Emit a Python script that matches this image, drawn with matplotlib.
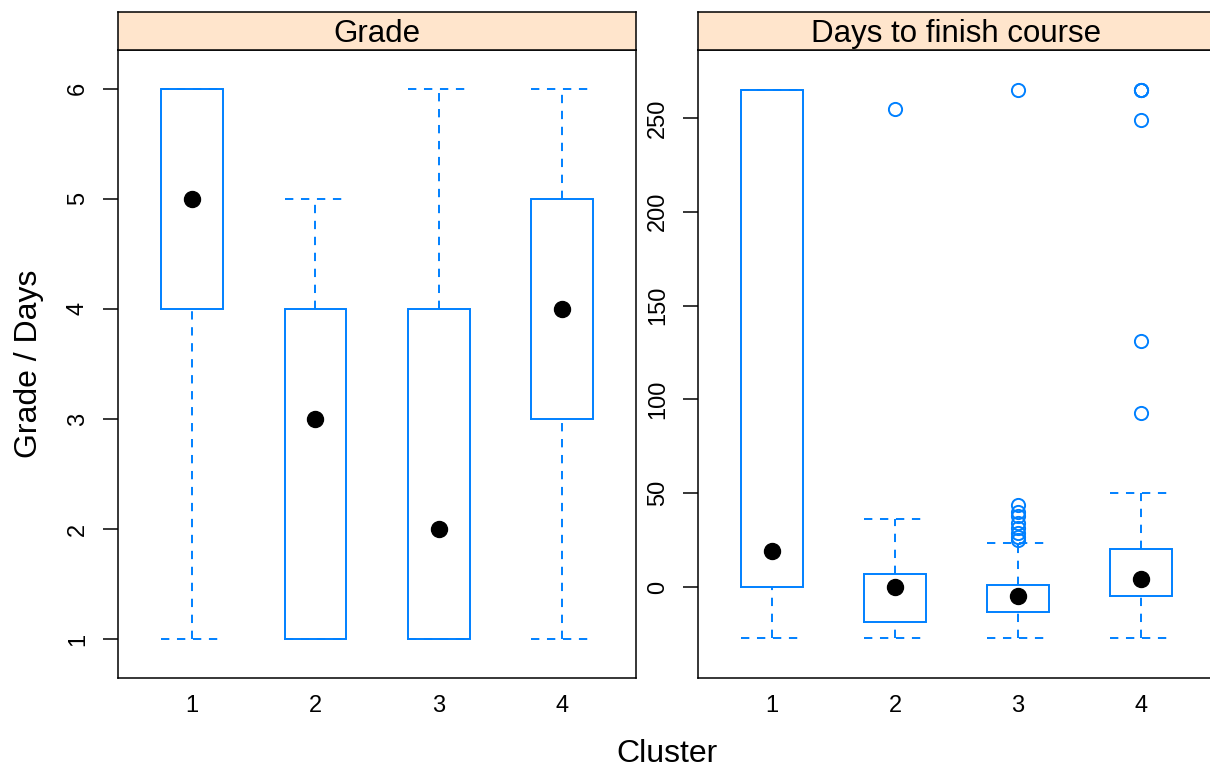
import matplotlib
matplotlib.use('Agg')
import matplotlib.pyplot as plt

plt.rcParams['font.family'] = ['Liberation Sans', 'DejaVu Sans']
plt.rcParams['lines.scale_dashes'] = False

BLUE = '#0080ff'
STRIP = '#ffe5cc'

clusters = [1, 2, 3, 4]

# Grade: box stats per cluster (lower whisker, q1, median, q3, upper whisker)
grade_lo = [1, 1, 1, 1]
grade_q1 = [4, 1, 1, 3]
grade_med = [5, 3, 2, 4]
grade_q3 = [6, 4, 4, 5]
grade_hi = [6, 5, 6, 6]
grade_out = [[], [], [], []]

# Days to finish course
days_lo = [-27, -27, -27, -27]
days_q1 = [0, -18.7, -13.5, -5]
days_med = [19, 0, -5, 4]
days_q3 = [265, 7, 1, 20]
days_hi = [265, 36, 23.5, 50]
days_out = [
    [],
    [254.5],
    [265, 43.5, 40, 38, 34, 31.5, 29, 26.5, 25],
    [265, 265, 265, 249, 131, 93],
]

W, H = 1210, 774
fig = plt.figure(figsize=(W / 100, H / 100), dpi=100)


def px_axes(l, r, b, t):
    return fig.add_axes([l / W, 1 - b / H, (r - l) / W, (b - t) / H])


def draw_panel(ax, lo, q1, med, q3, hi, out):
    bw = 0.5
    dash = (0, (6.0, 5.5))
    for i, x in enumerate(clusters):
        # box
        ax.plot([x - bw / 2, x + bw / 2, x + bw / 2, x - bw / 2, x - bw / 2],
                [q1[i], q1[i], q3[i], q3[i], q1[i]], color=BLUE, lw=1.4,
                solid_joinstyle='miter', zorder=2)
        # whiskers and caps
        ax.plot([x, x], [q3[i], hi[i]], color=BLUE, lw=1.4, ls=dash, zorder=2)
        ax.plot([x, x], [lo[i], q1[i]], color=BLUE, lw=1.4, ls=dash, zorder=2)
        ax.plot([x - bw / 2, x + bw / 2], [hi[i], hi[i]], color=BLUE, lw=1.4, ls=dash, zorder=2)
        ax.plot([x - bw / 2, x + bw / 2], [lo[i], lo[i]], color=BLUE, lw=1.4, ls=dash, zorder=2)
        # median dot
        ax.plot([x], [med[i]], 'o', color='black', ms=11.5, zorder=3)
        if out[i]:
            ax.plot([x] * len(out[i]), out[i], 'o', mfc='none', mec=BLUE,
                    ms=9.5, mew=1.4, zorder=3)
    ax.set_xlim(0.4, 4.6)
    ax.set_xticks(clusters)
    ax.set_xticklabels([str(c) for c in clusters])
    for s in ax.spines.values():
        s.set_linewidth(1.1)
    ax.tick_params(axis='y', direction='out', length=11, width=1.1,
                   labelsize=17, pad=10)
    ax.tick_params(axis='x', length=0, labelsize=17, pad=12)


def strip(l, r, t, b, text):
    sax = px_axes(l, r, b, t)
    sax.set_facecolor(STRIP)
    sax.set_xticks([])
    sax.set_yticks([])
    for s in sax.spines.values():
        s.set_linewidth(1.1)
    sax.text(0.5, 0.42, text, ha='center', va='center', fontsize=22.5,
             transform=sax.transAxes)


# left panel: Grade
ax1 = px_axes(118, 636, 678, 50)
draw_panel(ax1, grade_lo, grade_q1, grade_med, grade_q3, grade_hi, grade_out)
ax1.set_ylim(0.65, 6.35)
ax1.set_yticks([1, 2, 3, 4, 5, 6])
for lab in ax1.get_yticklabels():
    lab.set_rotation(90)
    lab.set_va('center')
strip(118, 636, 12, 50, 'Grade')

# right panel: Days
ax2 = px_axes(698, 1215, 678, 50)
draw_panel(ax2, days_lo, days_q1, days_med, days_q3, days_hi, days_out)
ax2.set_ylim(-48.5, 286.2)
ax2.set_yticks([0, 50, 100, 150, 200, 250])
for lab in ax2.get_yticklabels():
    lab.set_rotation(90)
    lab.set_va('center')
strip(698, 1215, 12, 50, 'Days to finish course')

fig.text(667 / W, 1 - 754 / H, 'Cluster', ha='center', va='center', fontsize=23)
fig.text(29 / W, 1 - 364 / H, 'Grade / Days', ha='center', va='center',
         fontsize=23, rotation=90)

fig.savefig('out.png', dpi=100)
